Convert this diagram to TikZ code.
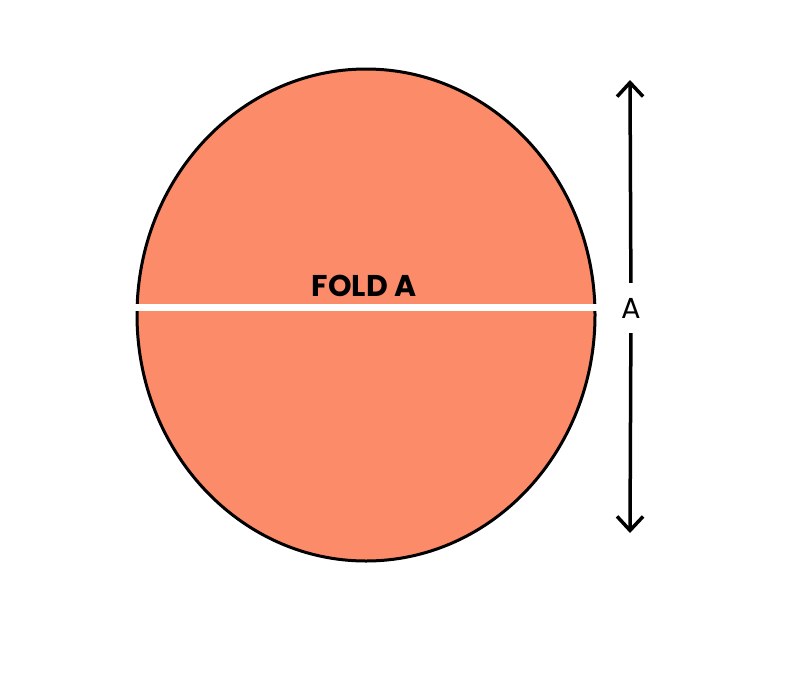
\documentclass[tikz,border=0pt]{standalone}
\usepackage{fontspec}
\newfontfamily\geofont{Poppins}
\usetikzlibrary{arrows.meta}
\definecolor{discfill}{RGB}{252,139,106}

\begin{document}
\begin{tikzpicture}[x=1pt,y=-1pt,
	disc/.style={draw=black,line width=3,fill=discfill},
	foldline/.style={draw=white,line width=7},
	dimline/.style={draw=black,line width=3.5,-{Straight Barb[length=14,width=26,line width=3.5]}},
	foldlabel/.style={font=\geofont\bfseries\fontsize{30}{30}\selectfont},
	dimlabel/.style={font=\geofont\fontsize{29}{29}\selectfont,inner sep=0,minimum height=50}]
	\useasboundingbox (0,0) rectangle (800,689);
	\draw[disc] (366,315) ellipse [x radius=229, y radius=246];
	\draw[foldline] (135,307.5) -- (598,307.5);
	\node[foldlabel] (fold) at (364,286) {FOLD A};
	% dimension arrow
	\coordinate (top) at (630,80);
	\coordinate (bot) at (630,533);
	\node[dimlabel] (lblA) at (631,308) {A};
	\draw[dimline] (lblA) -- (top);
	\draw[dimline] (lblA) -- (bot);
\end{tikzpicture}
\end{document}
